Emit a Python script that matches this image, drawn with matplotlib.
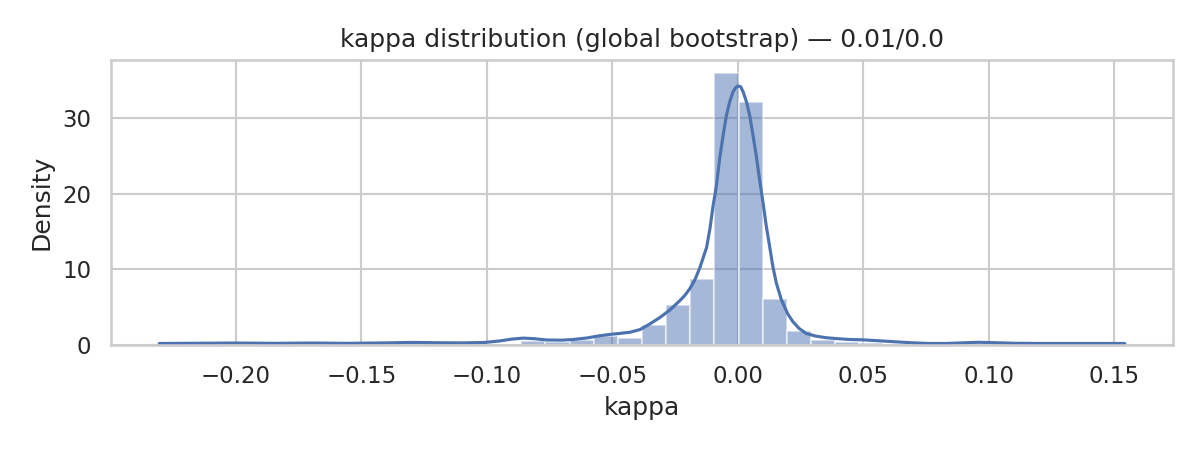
import numpy as np
import matplotlib
matplotlib.use("Agg")
import matplotlib.pyplot as plt
import seaborn as sns

# histogram: 40 equal bins between the min and max kappa
kappa_min = -0.2306
kappa_max = 0.1543
density = [0.10, 0.0, 0.10, 0.0, 0.10, 0.0, 0.10, 0.10, 0.0, 0.21,
           0.21, 0.10, 0.10, 0.21, 0.21, 0.57, 0.44, 0.66, 1.20, 0.97,
           2.66, 5.30, 8.76, 35.86, 32.10, 6.10, 1.86, 0.66, 0.44, 0.30,
           0.21, 0.10, 0.0, 0.10, 0.21, 0.10, 0.0, 0.10, 0.0, 0.10]

# kde curve, points
kde_x = [-0.2306, -0.215, -0.200, -0.185, -0.170, -0.155, -0.140, -0.130, -0.120, -0.110,
         -0.101, -0.095, -0.090, -0.0854, -0.081, -0.0761, -0.070, -0.0655, -0.060, -0.0549,
         -0.050, -0.0469, -0.043, -0.039, -0.035, -0.031, -0.027, -0.023, -0.0211, -0.0191,
         -0.0171, -0.0151, -0.0124, -0.0111, -0.0098, -0.0085, -0.0072, -0.0058, -0.0045, -0.0032,
         -0.0019, -0.0008, 0.0002, 0.0012, 0.0022, 0.0035, 0.0048, 0.0061, 0.0074, 0.0087,
         0.0101, 0.0114, 0.0127, 0.014, 0.0154, 0.0174, 0.020, 0.022, 0.0245, 0.0273,
         0.031, 0.0353, 0.040, 0.0445, 0.050, 0.056, 0.063, 0.070, 0.0763, 0.083,
         0.0895, 0.096, 0.102, 0.110, 0.120, 0.130, 0.140, 0.1543]
kde_y = [0.22, 0.25, 0.28, 0.24, 0.28, 0.24, 0.30, 0.36, 0.32, 0.30,
         0.35, 0.55, 0.80, 0.93, 0.85, 0.68, 0.66, 0.75, 0.95, 1.25,
         1.45, 1.55, 1.70, 2.05, 2.80, 3.65, 4.65, 5.90, 6.55, 7.45,
         8.6, 10.2, 12.9, 15.3, 18.4, 21.0, 24.6, 27.7, 30.3, 32.1,
         33.4, 34.0, 34.2, 34.1, 33.4, 32.1, 30.3, 27.7, 25.0, 21.9,
         18.8, 15.7, 13.1, 10.4, 8.2, 6.0, 4.1, 3.1, 2.2, 1.55,
         1.2, 0.98, 0.85, 0.75, 0.70, 0.58, 0.44, 0.30, 0.22, 0.22,
         0.30, 0.38, 0.33, 0.25, 0.22, 0.22, 0.22, 0.22]

sns.set_theme(style="whitegrid")
blue = sns.color_palette()[0]

fig, ax = plt.subplots(figsize=(8, 3), dpi=150)
edges = np.linspace(kappa_min, kappa_max, len(density) + 1)
ax.bar(edges[:-1], density, width=np.diff(edges), align="edge",
       color=blue, alpha=0.5, edgecolor="white", linewidth=1)
ax.plot(kde_x, kde_y, color=blue, linewidth=1.5)

ax.set_xlabel("kappa")
ax.set_ylabel("Density")
ax.set_title("kappa distribution (global bootstrap) \u2014 0.01/0.0")
ax.set_xticks([-0.20, -0.15, -0.10, -0.05, 0.00, 0.05, 0.10, 0.15])
ax.set_yticks([0, 10, 20, 30])

fig.subplots_adjust(left=0.0925, right=0.9775, top=0.867, bottom=0.233)
fig.savefig("out.png")
